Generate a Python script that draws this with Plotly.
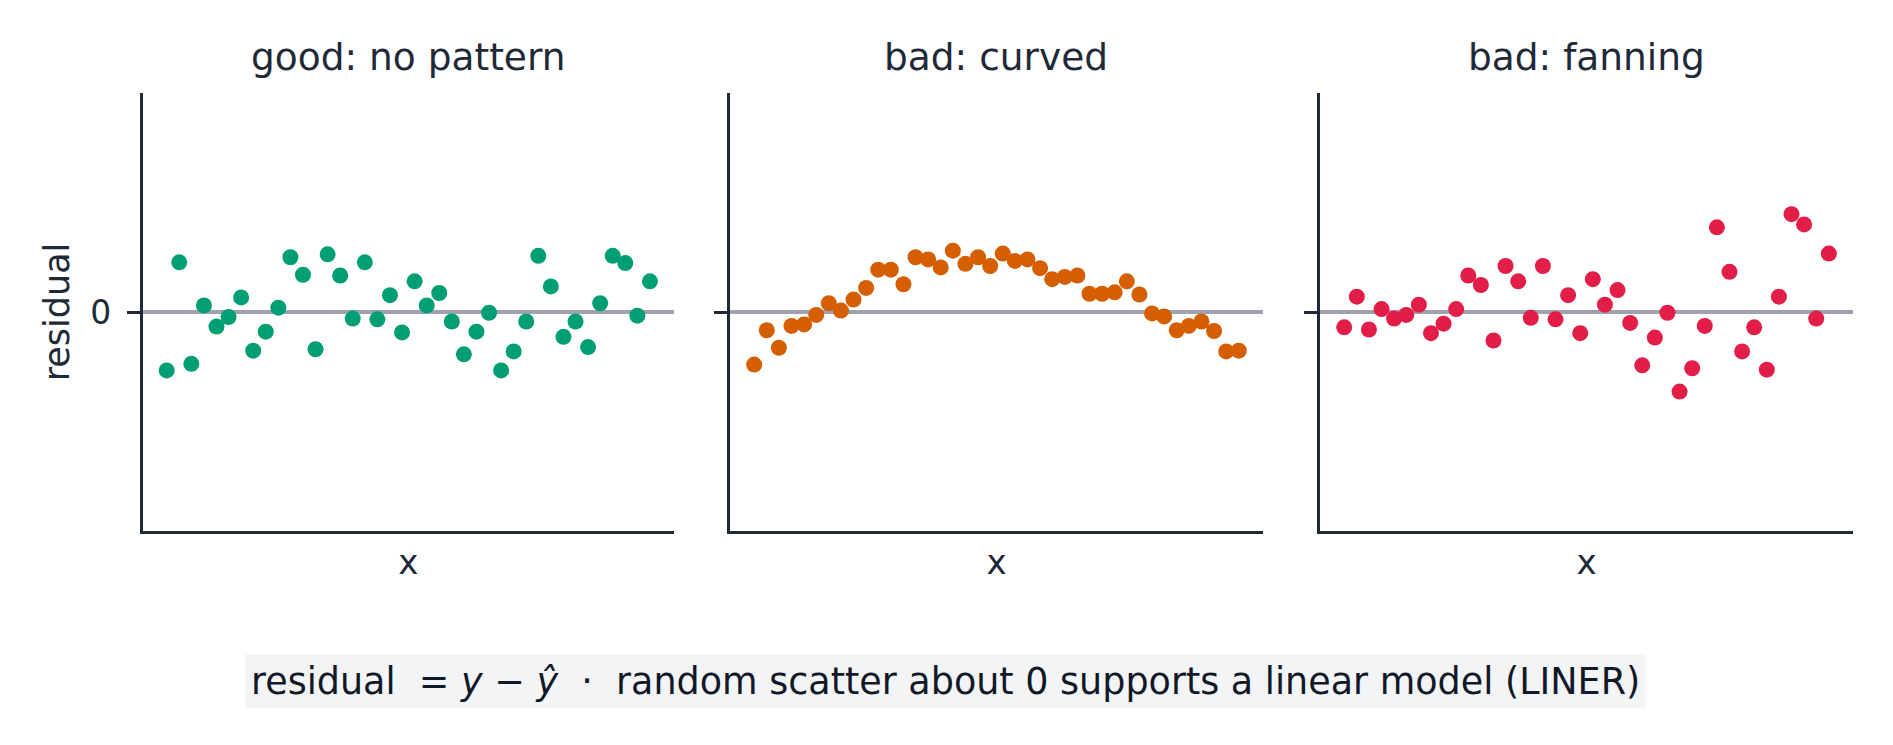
import plotly.graph_objects as go
from plotly.subplots import make_subplots

# x positions (evenly spaced 0..10, 40 points)
x_vals = [0.0, 0.26, 0.51, 0.77, 1.03, 1.28, 1.54, 1.79, 2.05, 2.31,
          2.56, 2.82, 3.08, 3.33, 3.59, 3.85, 4.10, 4.36, 4.62, 4.87,
          5.13, 5.38, 5.64, 5.90, 6.15, 6.41, 6.67, 6.92, 7.18, 7.44,
          7.69, 7.95, 8.21, 8.46, 8.72, 8.97, 9.23, 9.49, 9.74, 10.0]

# residuals
good = [-0.80, 0.68, -0.71, 0.09, -0.20, -0.07, 0.20, -0.53, -0.27, 0.06,
        0.75, 0.51, -0.51, 0.79, 0.50, -0.09, 0.68, -0.10, 0.23, -0.28,
        0.42, 0.09, 0.26, -0.13, -0.58, -0.27, -0.01, -0.80, -0.54, -0.13,
        0.77, 0.35, -0.34, -0.13, -0.48, 0.12, 0.77, 0.67, -0.05, 0.42]

curved = [-0.72, -0.25, -0.49, -0.19, -0.17, -0.04, 0.12, 0.02, 0.17, 0.33,
          0.58, 0.58, 0.38, 0.75, 0.72, 0.61, 0.84, 0.66, 0.75, 0.63,
          0.80, 0.70, 0.72, 0.60, 0.45, 0.48, 0.50, 0.25, 0.25, 0.27,
          0.42, 0.24, -0.02, -0.06, -0.25, -0.19, -0.13, -0.26, -0.54, -0.53]

fanning = [-0.21, 0.21, -0.24, 0.04, -0.09, -0.04, 0.10, -0.29, -0.16, 0.04,
           0.50, 0.37, -0.39, 0.63, 0.42, -0.08, 0.63, -0.10, 0.23, -0.29,
           0.45, 0.10, 0.30, -0.15, -0.73, -0.35, -0.01, -1.09, -0.77, -0.19,
           1.16, 0.55, -0.54, -0.21, -0.79, 0.21, 1.34, 1.20, -0.09, 0.80]

panel_titles = ["good: no pattern", "bad: curved", "bad: fanning"]
panel_colors = ["#009E73", "#D55E00", "#E11D48"]

FONT = "DejaVu Sans"
INK = "#1f2937"

fig = make_subplots(rows=1, cols=3, shared_yaxes=False)

for i, (ys, color) in enumerate(zip([good, curved, fanning], panel_colors)):
    fig.add_trace(
        go.Scatter(x=x_vals, y=ys, mode="markers",
                   marker=dict(size=16, color=color, line=dict(width=0)),
                   showlegend=False),
        row=1, col=i + 1
    )

# panel placement (paper fractions)
x_domains = [[0.0753, 0.3561], [0.3856, 0.6672], [0.6973, 0.9789]]
y_domain = [0.2872, 0.8752]

for i in range(3):
    fig.update_xaxes(domain=x_domains[i], range=[-0.5, 10.5],
                     showgrid=False, zeroline=False, showticklabels=False,
                     ticks="", showline=True, linecolor=INK, linewidth=2.5,
                     title=dict(text="x", font=dict(family=FONT, size=34, color=INK),
                                standoff=18),
                     row=1, col=i + 1)
    fig.update_yaxes(domain=y_domain, range=[-3, 3],
                     showgrid=False, zeroline=True, zerolinecolor="#9ca3af",
                     zerolinewidth=3.5, tickmode="array", tickvals=[0],
                     ticktext=["0"], ticks="outside", ticklen=13, tickwidth=2.5,
                     tickcolor=INK, showticklabels=(i == 0),
                     ticklabelstandoff=9,
                     tickfont=dict(family=FONT, size=33, color=INK),
                     showline=True, linecolor=INK, linewidth=2.5,
                     row=1, col=i + 1)

fig.update_yaxes(title=dict(text="residual", font=dict(family=FONT, size=35, color=INK),
                            standoff=10), row=1, col=1)

# panel titles
for i, t in enumerate(panel_titles):
    fig.add_annotation(text=t, xref="paper", yref="paper",
                       x=sum(x_domains[i]) / 2, y=0.9235,
                       xanchor="center", yanchor="middle", showarrow=False,
                       font=dict(family=FONT, size=37.5, color=INK))

# footnote box
fig.add_annotation(
    text="residual  = <i>y</i> − <i>ŷ</i>  ·  random scatter about 0 supports a linear model (LINER)",
    xref="paper", yref="paper", x=0.4995, y=0.0846,
    xanchor="center", yanchor="middle", showarrow=False,
    bgcolor="#f3f4f6", borderpad=5,
    font=dict(family=FONT, size=36.5, color="#111827"))

fig.update_layout(
    width=1893, height=745,
    margin=dict(l=0, r=0, t=0, b=0),
    plot_bgcolor="white", paper_bgcolor="white",
    font=dict(family=FONT, color=INK),
)

fig.write_html("out.html", config={"displayModeBar": False},
               post_script="document.body.style.margin='0';")
